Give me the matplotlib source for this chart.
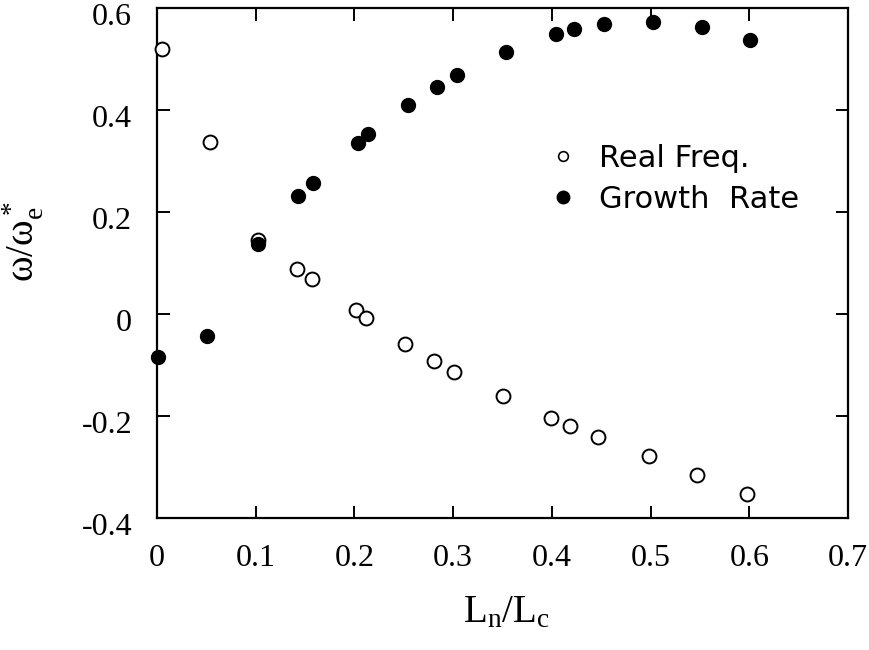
import matplotlib
matplotlib.use('Agg')
import matplotlib.pyplot as plt
from matplotlib.lines import Line2D
from matplotlib.ticker import FuncFormatter
from matplotlib.transforms import ScaledTranslation

# Real frequency and growth rate vs L_n/L_c
ln_lc_real = [0.005, 0.054, 0.102, 0.142, 0.157, 0.202, 0.212, 0.251, 0.281,
              0.301, 0.350, 0.399, 0.418, 0.447, 0.498, 0.547, 0.598]
real_freq = [0.520, 0.338, 0.145, 0.088, 0.068, 0.007, -0.007, -0.058, -0.092,
             -0.113, -0.161, -0.204, -0.220, -0.242, -0.279, -0.315, -0.352]

ln_lc_growth = [0.001, 0.051, 0.102, 0.143, 0.158, 0.204, 0.214, 0.254, 0.284,
                0.304, 0.354, 0.404, 0.422, 0.453, 0.502, 0.552, 0.601]
growth_rate = [-0.084, -0.044, 0.137, 0.232, 0.257, 0.335, 0.352, 0.409, 0.445,
               0.468, 0.514, 0.549, 0.559, 0.569, 0.573, 0.563, 0.537]

x_ticks = [0, 0.1, 0.2, 0.3, 0.4, 0.5, 0.6, 0.7]
y_ticks = [-0.4, -0.2, 0, 0.2, 0.4, 0.6]

plt.rcParams['font.family'] = ['Liberation Serif', 'DejaVu Serif']
plt.rcParams['mathtext.fontset'] = 'custom'
plt.rcParams['mathtext.rm'] = 'Liberation Serif'
plt.rcParams['mathtext.it'] = 'Liberation Serif:italic'

fig = plt.figure(figsize=(8.69, 6.5), dpi=100)
ax = fig.add_axes([0.1807, 0.2031, 0.7952, 0.7846])

ax.plot(ln_lc_real, real_freq, 'o', ms=10, mfc='white', mec='black', mew=1.4,
        clip_on=False, zorder=3)
ax.plot(ln_lc_growth, growth_rate, 'o', ms=10, mfc='black', mec='black',
        clip_on=False, zorder=3)

ax.set_xlim(0, 0.7)
ax.set_ylim(-0.4, 0.6)
ax.set_xticks(x_ticks)
ax.set_yticks(y_ticks)

def fmt(v, pos):
    return '%g' % round(v, 2)

ax.xaxis.set_major_formatter(FuncFormatter(fmt))
ax.yaxis.set_major_formatter(FuncFormatter(fmt))
ax.tick_params(direction='in', length=9, width=1.4, top=True, right=True,
               labelsize=23)
ax.tick_params(axis='x', pad=19)
ax.tick_params(axis='y', pad=18)
# nudge y tick labels slightly down
shift = ScaledTranslation(0, -4 / 72, fig.dpi_scale_trans)
for lbl in ax.get_yticklabels():
    lbl.set_transform(lbl.get_transform() + shift)
for s in ax.spines.values():
    s.set_linewidth(1.6)

ax.set_xlabel(r'$\mathrm{L_n/L_c}$', fontsize=28, va='top')
ax.xaxis.set_label_coords(0.506, -0.150)
ax.set_ylabel(r'$\mathrm{\omega/\omega^*_e}$', fontsize=28)
ax.yaxis.set_label_coords(-0.162, 0.542)

handles = [Line2D([], [], ls='none', marker='o', ms=7, mfc='white', mec='black', mew=1.2),
           Line2D([], [], ls='none', marker='o', ms=9, mfc='black', mec='black')]
ax.legend(handles, ['Real Freq.', 'Growth  Rate'], loc='center left',
          bbox_to_anchor=(0.566, 0.665), frameon=False, handlelength=1.0,
          handletextpad=0.65, labelspacing=0.4, borderpad=0, borderaxespad=0,
          prop={'family': 'DejaVu Sans', 'size': 22})

fig.savefig('out.png', dpi=100)
